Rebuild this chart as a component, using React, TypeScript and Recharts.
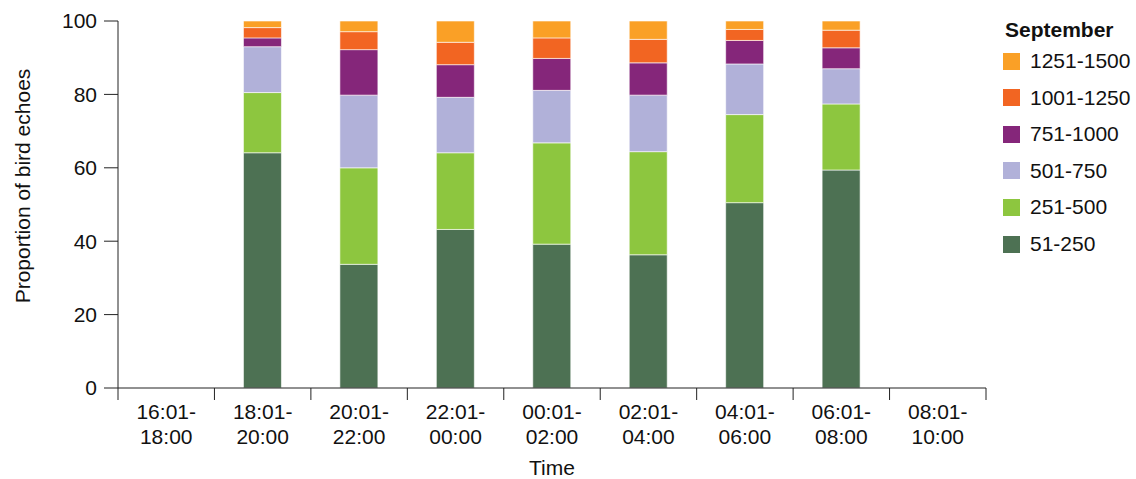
import React from 'react';
import { BarChart, Bar, XAxis, YAxis, Legend, Label } from 'recharts';

const times = [
  '16:01-18:00', '18:01-20:00', '20:01-22:00', '22:01-00:00', '00:01-02:00',
  '02:01-04:00', '04:01-06:00', '06:01-08:00', '08:01-10:00',
];

// proportion of bird echoes per size band (%)
const band51_250 = [null, 64.1, 33.7, 43.2, 39.2, 36.3, 50.5, 59.4, null];
const band251_500 = [null, 16.4, 26.3, 20.9, 27.6, 28.1, 24.0, 18.0, null];
const band501_750 = [null, 12.5, 19.8, 15.1, 14.3, 15.4, 13.8, 9.6, null];
const band751_1000 = [null, 2.4, 12.4, 8.9, 8.7, 8.8, 6.4, 5.7, null];
const band1001_1250 = [null, 2.8, 4.9, 6.1, 5.6, 6.4, 3.0, 4.8, null];
const band1251_1500 = [null, 1.8, 2.9, 5.8, 4.6, 5.0, 2.3, 2.5, null];

const yTicks = [0, 20, 40, 60, 80, 100];

const series = [
  { key: 'b51', label: '51-250', color: '#4d7153', values: band51_250 },
  { key: 'b251', label: '251-500', color: '#8dc63f', values: band251_500 },
  { key: 'b501', label: '501-750', color: '#b1b1d9', values: band501_750 },
  { key: 'b751', label: '751-1000', color: '#85267a', values: band751_1000 },
  { key: 'b1001', label: '1001-1250', color: '#f26522', values: band1001_1250 },
  { key: 'b1251', label: '1251-1500', color: '#faa026', values: band1251_1500 },
];

const data = times.map((t, i) => {
  const row: Record<string, unknown> = { time: t };
  series.forEach(s => { row[s.key] = s.values[i]; });
  return row;
});

const W = 1136;
const H = 479;
const M = { top: 21, right: 150, bottom: 0, left: 0 };
const Y_AXIS_W = 118;
const X_AXIS_H = 91;
const FONT = '"Liberation Sans", Arial, Helvetica, sans-serif';
const FS = 21;
const bandW = (W - M.left - M.right - Y_AXIS_W) / times.length;

const TimeTick = (props: any) => {
  const { x, y, payload, index } = props;
  const v: string = payload.value;
  const cut = v.indexOf('-') + 1;
  return (
    <g>
      <line x1={x - bandW / 2} x2={x - bandW / 2} y1={y} y2={y + 12} stroke="#222" />
      {index === times.length - 1 && (
        <line x1={x + bandW / 2} x2={x + bandW / 2} y1={y} y2={y + 12} stroke="#222" />
      )}
      <text x={x} y={y + 23} textAnchor="middle" dominantBaseline="central" fontSize={FS} fontFamily={FONT} fill="#111">
        {v.slice(0, cut)}
      </text>
      <text x={x} y={y + 48} textAnchor="middle" dominantBaseline="central" fontSize={FS} fontFamily={FONT} fill="#111">
        {v.slice(cut)}
      </text>
    </g>
  );
};

const MonthLegend = () => (
  <div style={{ position: 'relative', width: 136, height: 260, fontFamily: FONT, color: '#111' }}>
    <div style={{ position: 'absolute', left: 5, top: 18, fontSize: FS, fontWeight: 'bold', lineHeight: '24px' }}>
      September
    </div>
    {[...series].reverse().map((s, i) => (
      <div key={s.key} style={{ position: 'absolute', left: 3, top: 49 + i * 36.6, height: 24, display: 'flex', alignItems: 'center' }}>
        <span style={{ width: 17, height: 17, background: s.color, display: 'inline-block' }} />
        <span style={{ marginLeft: 10, fontSize: FS, lineHeight: '24px', whiteSpace: 'nowrap' }}>{s.label}</span>
      </div>
    ))}
  </div>
);

export default function App() {
  return (
    <div style={{ position: 'absolute', left: 0, top: 0 }}>
      <BarChart width={W} height={H} data={data} margin={M} barSize={38}>
        <XAxis
          dataKey="time"
          height={X_AXIS_H}
          tickSize={0}
          tickMargin={0}
          tickLine={false}
          interval={0}
          axisLine={{ stroke: '#222' }}
          tick={<TimeTick />}
        >
          <Label value="Time" position="insideBottom" offset={4} fontSize={FS} fontFamily={FONT} fill="#111" />
        </XAxis>
        <XAxis xAxisId="top" orientation="top" dataKey="time" height={0} tick={false} tickLine={false} axisLine={{ stroke: '#444', strokeWidth: 1.5 }} />
        <YAxis
          width={Y_AXIS_W}
          domain={[0, 100]}
          ticks={yTicks}
          allowDataOverflow
          tickSize={14}
          tickMargin={7}
          axisLine={{ stroke: '#222' }}
          tickLine={{ stroke: '#222' }}
          tick={{ fontSize: FS, fontFamily: FONT, fill: '#111' }}
        >
          <Label
            content={() => (
              <text transform="translate(22,186) rotate(-90)" textAnchor="middle" dominantBaseline="central" fontSize={FS} fontFamily={FONT} fill="#111">
                Proportion of bird echoes
              </text>
            )}
          />
        </YAxis>
        <YAxis yAxisId="right" orientation="right" width={0} domain={[0, 100]} tick={false} tickLine={false} axisLine={{ stroke: '#222' }} />
        <Legend
          layout="vertical"
          align="center"
          verticalAlign="middle"
          content={<MonthLegend />}
          wrapperStyle={{ position: 'absolute', left: 1000, top: 0, width: 136 }}
        />
        {series.map(s => (
          <Bar
            key={s.key}
            dataKey={s.key}
            name={s.label}
            stackId="a"
            fill={s.color}
            stroke="rgba(255,255,255,0.6)"
            strokeWidth={1}
            isAnimationActive={false}
          />
        ))}
      </BarChart>
    </div>
  );
}
